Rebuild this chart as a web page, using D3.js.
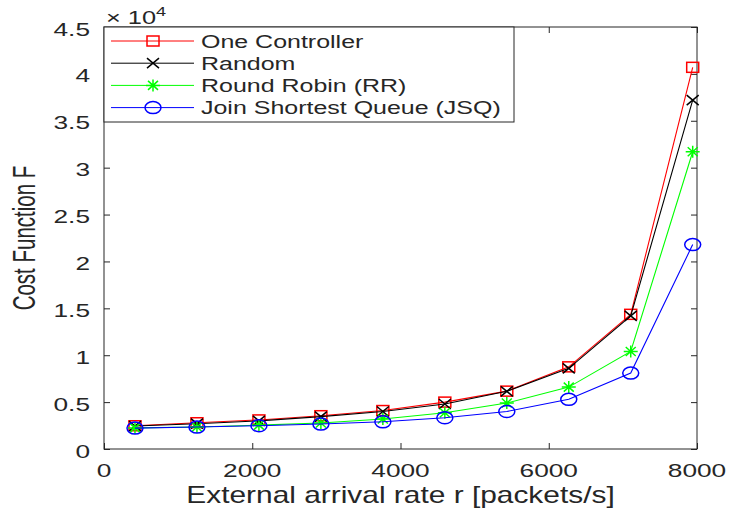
<!DOCTYPE html>
<html>
<head>
  <script src="https://cdn.jsdelivr.net/npm/d3@7/dist/d3.min.js"></script>
  <style>
    body { margin: 0; background: #fff; }
    text { font-family: "Liberation Sans", Arial, sans-serif; fill: #262626; }
  </style>
</head>
<body>
  <div id="chart"></div>
  <script>
    // arrival rates (packets/s)
    const rates = [418, 1254, 2090, 2926, 3762, 4598, 5434, 6270, 7106, 7942];
    // cost values, in units of 10^4
    const oneController = [0.248, 0.28, 0.31, 0.355, 0.41, 0.50, 0.617, 0.876, 1.436, 4.07];
    const randomSel    = [0.245, 0.27, 0.30, 0.345, 0.40, 0.48, 0.615, 0.86, 1.42, 3.72];
    const roundRobin   = [0.225, 0.235, 0.255, 0.277, 0.32, 0.386, 0.49, 0.66, 1.04, 3.17];
    const jsq          = [0.223, 0.234, 0.248, 0.266, 0.29, 0.333, 0.40, 0.53, 0.81, 2.18];
    const xTicks = [0, 2000, 4000, 6000, 8000];
    const yTicks = [0, 0.5, 1, 1.5, 2, 2.5, 3, 3.5, 4, 4.5];

    const series = [
      { name: "One Controller", values: oneController, color: "#ff0000", marker: "square" },
      { name: "Random", values: randomSel, color: "#000000", marker: "cross" },
      { name: "Round Robin (RR)", values: roundRobin, color: "#00ff00", marker: "star" },
      { name: "Join Shortest Queue (JSQ)", values: jsq, color: "#0000ff", marker: "circle" }
    ];

    const W = 731, H = 515;
    const m = { left: 104, right: 34, top: 27, bottom: 66 };
    const svg = d3.select("#chart").append("svg").attr("width", W).attr("height", H);

    const x = d3.scaleLinear().domain([0, 8000]).range([m.left, W - m.right]);
    const y = d3.scaleLinear().domain([0, 4.5]).range([H - m.bottom, m.top]);
    const axisColor = "#262626";

    // the picture is stretched sideways, so text gets a horizontal scale
    function stext(parent, tx, ty, str, size, sx, anchor, rot) {
      return parent.append("text")
        .attr("transform", `translate(${tx},${ty}) scale(${sx},1)` + (rot ? ` rotate(${rot})` : ""))
        .attr("text-anchor", anchor || "start")
        .style("font-size", size + "px")
        .text(str);
    }

    // box + ticks
    const g = svg.append("g");
    g.append("rect")
      .attr("x", x(0)).attr("y", y(4.5))
      .attr("width", x(8000) - x(0)).attr("height", y(0) - y(4.5))
      .attr("fill", "none").attr("stroke", axisColor).attr("stroke-width", 1);

    const tickAxes = [
      [d3.axisBottom(x).tickValues(xTicks), `translate(0,${y(0)})`],
      [d3.axisTop(x).tickValues(xTicks), `translate(0,${y(4.5)})`],
      [d3.axisLeft(y).tickValues(yTicks), `translate(${x(0)},0)`],
      [d3.axisRight(y).tickValues(yTicks), `translate(${x(8000)},0)`]
    ];
    tickAxes.forEach(([ax, tr]) => {
      g.append("g").attr("transform", tr)
        .call(ax.tickSize(-6).tickFormat(""))
        .call(a => { a.select(".domain").remove(); a.selectAll("line").attr("stroke", axisColor); });
    });

    // tick labels
    xTicks.forEach(v => stext(svg, x(v), 477, String(v), 17.5, 1.5, "middle"));
    yTicks.forEach(v => stext(svg, 90, y(v) + 8.5, String(v), 17.5, 1.5, "end"));

    // exponent label
    const exp = svg.append("text").attr("transform", "translate(106,24) scale(1.45,1)").style("font-size", "17.5px");
    exp.append("tspan").text("\u00d7 10");
    exp.append("tspan").attr("dy", -8).style("font-size", "12.5px").text("4");

    // axis titles
    stext(svg, x(4000), 503, "External arrival rate r [packets/s]", 23, 1.3, "middle");
    stext(svg, 35, (y(0) + y(4.5)) / 2, "Cost Function F", 20.5, 1.5, "middle", -90);

    function drawMarker(sel, type, color) {
      if (type === "square") {
        sel.append("rect").attr("x", -6).attr("y", -5).attr("width", 12).attr("height", 10)
          .attr("fill", "none").attr("stroke", color).attr("stroke-width", 1.5);
      } else if (type === "cross") {
        sel.append("path").attr("d", "M-6,-5L6,5M-6,5L6,-5").attr("stroke", color).attr("stroke-width", 1.5);
      } else if (type === "star") {
        sel.append("path").attr("d", "M-7,0L7,0M0,-6L0,6M-5,-4.5L5,4.5M-5,4.5L5,-4.5")
          .attr("stroke", color).attr("stroke-width", 1.5);
      } else {
        sel.append("ellipse").attr("rx", 8).attr("ry", 6)
          .attr("fill", "none").attr("stroke", color).attr("stroke-width", 1.5);
      }
    }

    const line = d3.line().x((d, i) => x(rates[i])).y(d => y(d));
    series.forEach(s => {
      svg.append("path").datum(s.values).attr("d", line)
        .attr("fill", "none").attr("stroke", s.color).attr("stroke-width", 1.1);
      s.values.forEach((v, i) => {
        const mk = svg.append("g").attr("transform", `translate(${x(rates[i])},${y(v)})`);
        drawMarker(mk, s.marker, s.color);
      });
    });

    // legend
    const lg = svg.append("g").attr("transform", `translate(${x(0)},${y(4.5)})`);
    lg.append("rect").attr("x", 0).attr("y", 0).attr("width", 410).attr("height", 95)
      .attr("fill", "#fff").attr("stroke", axisColor).attr("stroke-width", 1);
    series.forEach((s, i) => {
      const row = lg.append("g").attr("transform", `translate(0,${14 + i * 22.2})`);
      row.append("line").attr("x1", 7).attr("x2", 90).attr("stroke", s.color).attr("stroke-width", 1);
      const mk = row.append("g").attr("transform", "translate(49,0)");
      drawMarker(mk, s.marker, s.color);
      stext(row, 97, 6.5, s.name, 18.5, 1.35, "start");
    });
  </script>
</body>
</html>
